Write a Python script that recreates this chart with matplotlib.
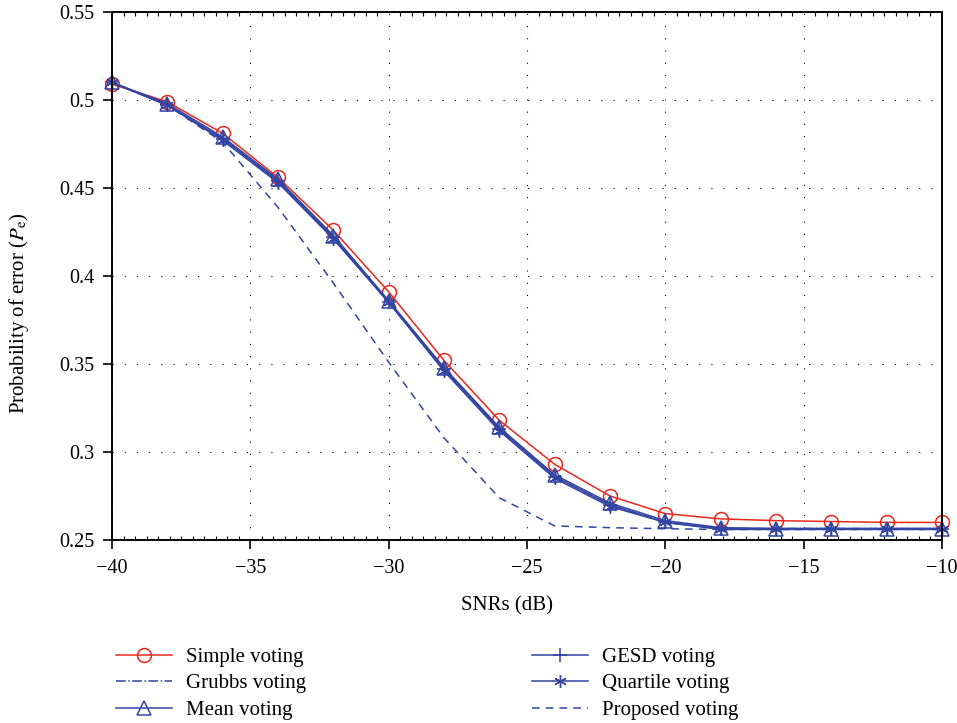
import numpy as np
import matplotlib.pyplot as plt
from matplotlib.ticker import AutoMinorLocator

# ---------- data ----------
snr = np.arange(-40, -9, 2)   # -40 ... -10 dB

simple   = [0.509, 0.499, 0.481, 0.456, 0.426, 0.391, 0.352, 0.318, 0.293,
            0.275, 0.265, 0.262, 0.261, 0.2605, 0.260, 0.260]
grubbs   = [0.510, 0.497, 0.478, 0.454, 0.422, 0.385, 0.347, 0.313, 0.286,
            0.270, 0.260, 0.2565, 0.2565, 0.2565, 0.2565, 0.2565]
mean     = [0.510, 0.498, 0.479, 0.455, 0.423, 0.386, 0.348, 0.314, 0.287,
            0.271, 0.261, 0.257, 0.2565, 0.2565, 0.2565, 0.2565]
gesd     = [0.510, 0.497, 0.478, 0.454, 0.422, 0.385, 0.347, 0.313, 0.286,
            0.270, 0.260, 0.2565, 0.2565, 0.2565, 0.2565, 0.2565]
quartile = [0.510, 0.497, 0.477, 0.453, 0.421, 0.385, 0.346, 0.312, 0.285,
            0.269, 0.260, 0.256, 0.256, 0.256, 0.256, 0.256]
proposed = [0.510, 0.497, 0.476, 0.439, 0.396, 0.351, 0.308, 0.274, 0.258,
            0.257, 0.2564, 0.256, 0.256, 0.256, 0.256, 0.256]

yticks = [0.25, 0.3, 0.35, 0.4, 0.45, 0.5, 0.55]
ytick_labels = ["0.25", "0.3", "0.35", "0.4", "0.45", "0.5", "0.55"]
xticks = [-40, -35, -30, -25, -20, -15, -10]

RED = "#e8291c"
BLUE = "#3244a2"

plt.rcParams["font.family"] = ["Liberation Serif", "DejaVu Serif"]
plt.rcParams["mathtext.fontset"] = "stix"

fig = plt.figure(figsize=(9.57, 7.23), dpi=100)
ax = fig.add_axes([112 / 957, 1 - 540 / 723, (942 - 112) / 957, (540 - 12) / 723])

common = dict(lw=1.1, clip_on=False)
ax.plot(snr, simple, color=RED, marker="o", ms=10, mfc="none",
        mec=RED, mew=1.1, label="Simple voting", **common)
ax.plot(snr, grubbs, color=BLUE, ls="-.", label="Grubbs voting", **common)
ax.plot(snr, mean, color=BLUE, marker="^", ms=10, mfc="none",
        mec=BLUE, mew=1.1, label="Mean voting", **common)
ax.plot(snr, gesd, color=BLUE, marker="+", ms=10, mew=1.1,
        label="GESD voting", **common)
ax.plot(snr, quartile, color=BLUE, marker=(6, 2, 0), ms=9, mew=1.0,
        label="Quartile voting", **common)
ax.plot(snr, proposed, color=BLUE, ls=(0, (5, 4)),
        label="Proposed voting", **common)

ax.set_xlim(-40, -10)
ax.set_ylim(0.25, 0.55)
ax.set_xticks(xticks)
ax.set_yticks(yticks)
ax.set_yticklabels(ytick_labels)
ax.xaxis.set_minor_locator(AutoMinorLocator(12))

ax.tick_params(axis="both", which="major", direction="out", length=6.5,
               width=1.2, labelsize=14.5, colors="black", pad=6)
ax.tick_params(axis="x", which="major", pad=7)
ax.tick_params(axis="x", which="minor", direction="in", length=3, width=0.8,
               top=True)
ax.tick_params(axis="y", which="minor", left=False)

for s in ax.spines.values():
    s.set_linewidth(1.4)

ax.grid(True, which="major", color="black", lw=0.8, ls=(0, (1, 10)))

ax.set_xlabel("SNRs (dB)", fontsize=15)
ax.set_ylabel(r"Probability of error ($P_\mathrm{e}$)", fontsize=15)
ax.xaxis.set_label_coords(0.476, -0.106)
ax.yaxis.set_label_coords(-0.097, 0.43)

fig.legend(loc="upper left", bbox_to_anchor=(106 / 957, 1 - 637 / 723),
           ncol=2, frameon=False, fontsize=15, handlelength=2.65,
           handletextpad=0.7, labelspacing=0.33, columnspacing=10.85,
           borderpad=0)

fig.savefig("out.png", dpi=100)
